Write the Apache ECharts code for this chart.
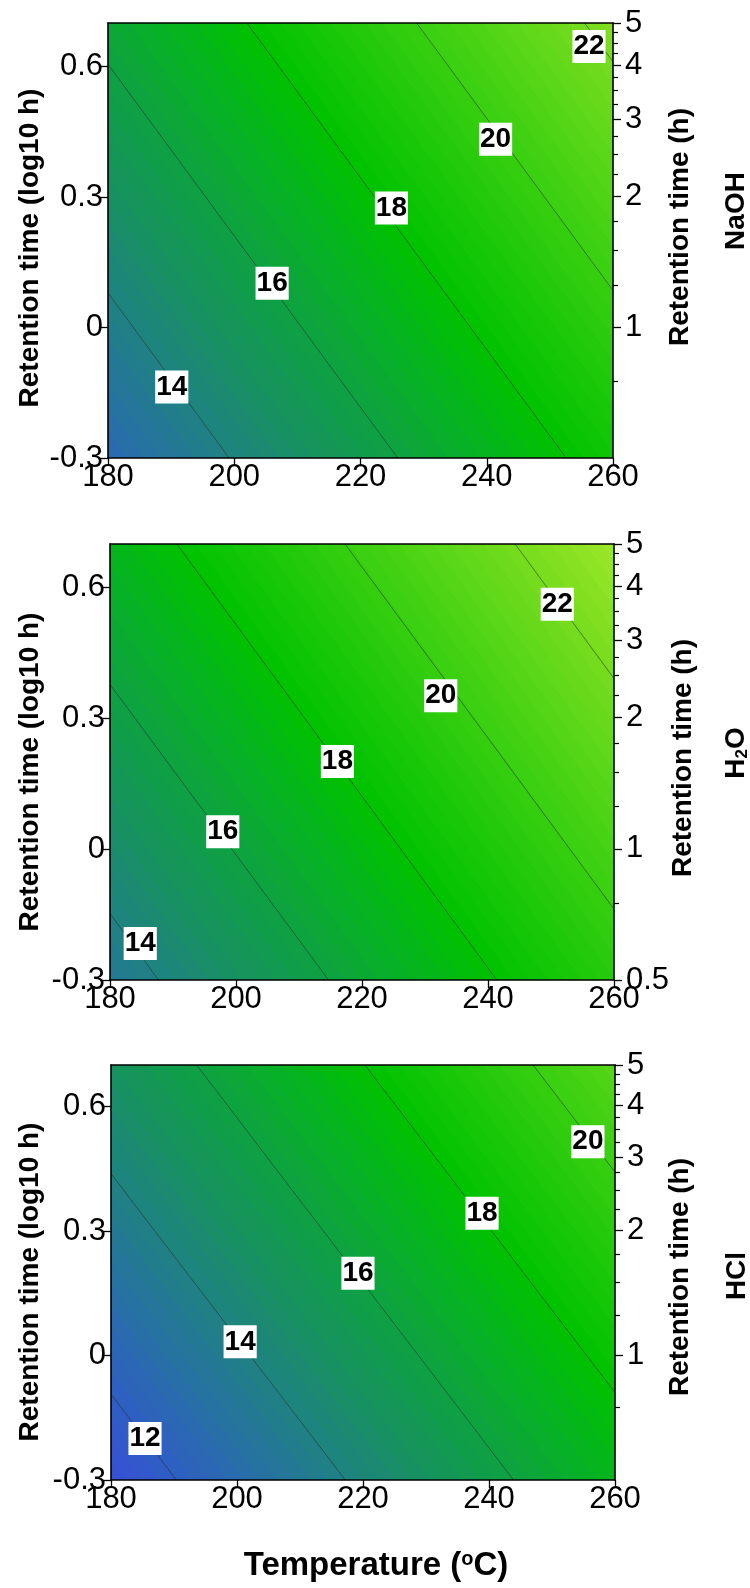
<!DOCTYPE html>
<html>
<head>
<meta charset="utf-8">
<title>Contours vs temperature and retention time</title>
<script src="https://cdn.jsdelivr.net/npm/echarts@6/dist/echarts.min.js"></script>
<style>
  html, body { margin: 0; padding: 0; background: #fff; }
  #chart { width: 750px; height: 1588px; }
</style>
</head>
<body>
<div id="chart"></div>
<script>
// contour levels; each line is given by the temperature where it meets
// the bottom (log10 h = -0.3) and the top (log10 h = 0.7) of the plot
var naohLevels = [14, 16, 18, 20, 22];
var naohTempAtBottom = [199.2, 225.9, 252.6, 279.5, 306.1];
var naohTempAtTop = [148.6, 175.2, 202.0, 228.9, 255.5];
var naohLabelTemp = [190.1, 206.0, 224.9, 241.4, 256.2];
var naohLabelTime = [-0.137, 0.102, 0.275, 0.433, 0.646];

var h2oLevels = [14, 16, 18, 20, 22];
var h2oTempAtBottom = [187.7, 214.7, 241.4, 268.3, 295.2];
var h2oTempAtTop = [137.2, 163.5, 190.6, 217.3, 244.3];
var h2oLabelTemp = [184.8, 197.9, 216.1, 232.5, 251.0];
var h2oLabelTime = [-0.216, 0.040, 0.201, 0.352, 0.562];

var hclLevels = [12, 14, 16, 18, 20];
var hclTempAtBottom = [190.4, 217.2, 243.9, 270.6, 297.4];
var hclTempAtTop = [140.1, 166.8, 193.6, 220.3, 247.0];
var hclLabelTemp = [185.4, 200.5, 219.2, 238.9, 255.7];
var hclLabelTime = [-0.200, 0.033, 0.198, 0.343, 0.515];

// axes
var tempTicks = [180, 200, 220, 240, 260];
var logTimeTicks = [-0.3, 0, 0.3, 0.6];
var hourLabelsNaoh = [1, 2, 3, 4, 5];
var hourLabelsH2o = [0.5, 1, 2, 3, 4, 5];
var hourLabelsHcl = [1, 2, 3, 4, 5];
var hourMinorTicks = [0.75, 1.25, 1.5, 1.75, 2.25, 2.5, 2.75, 3.25, 3.5, 3.75, 4.25, 4.5, 4.75];

// colour ramp used for the filled contours
var rampZ = [11, 12, 13, 14, 15, 16, 17, 18, 19, 20, 21, 22, 23, 24];
var rampColor = ['#3b4bdc', '#2f5ec4', '#2771a4', '#1f8282', '#16935e', '#0ea242', '#06b322',
                 '#00c200', '#1bc808', '#38cf10', '#57d617', '#77dd1e', '#98e526', '#b6ec2e'];
var bandStep = 0.2;

var FONT = '"Liberation Sans", Arial, sans-serif';

var panels = [
  { name: 'NaOH', levels: naohLevels, bottom: naohTempAtBottom, top: naohTempAtTop,
    labelT: naohLabelTemp, labelL: naohLabelTime, hours: hourLabelsNaoh,
    grid: { left: 108, top: 23, width: 505, height: 435 } },
  { name: 'H2O', levels: h2oLevels, bottom: h2oTempAtBottom, top: h2oTempAtTop,
    labelT: h2oLabelTemp, labelL: h2oLabelTime, hours: hourLabelsH2o,
    grid: { left: 110, top: 544, width: 504, height: 436 } },
  { name: 'HCl', levels: hclLevels, bottom: hclTempAtBottom, top: hclTempAtTop,
    labelT: hclLabelTemp, labelL: hclLabelTime, hours: hourLabelsHcl,
    grid: { left: 111, top: 1065, width: 504, height: 415 } }
];

function hexRgb(h) {
  return [parseInt(h.substr(1, 2), 16), parseInt(h.substr(3, 2), 16), parseInt(h.substr(5, 2), 16)];
}

function rampAt(z) {
  if (z <= rampZ[0]) return rampColor[0];
  if (z >= rampZ[rampZ.length - 1]) return rampColor[rampColor.length - 1];
  for (var i = 0; i < rampZ.length - 1; i++) {
    if (z <= rampZ[i + 1]) {
      var t = (z - rampZ[i]) / (rampZ[i + 1] - rampZ[i]);
      var a = hexRgb(rampColor[i]), b = hexRgb(rampColor[i + 1]);
      return 'rgb(' + Math.round(a[0] + (b[0] - a[0]) * t) + ',' +
        Math.round(a[1] + (b[1] - a[1]) * t) + ',' + Math.round(a[2] + (b[2] - a[2]) * t) + ')';
    }
  }
}

function contourRenderer(p) {
  return function (params, api) {
    var cs = params.coordSys;
    var n = p.levels.length - 1;
    var a0 = api.coord([p.bottom[0], -0.3]);
    var b0 = api.coord([p.top[0], 0.7]);
    var a1 = api.coord([p.bottom[n], -0.3]);
    var dx = b0[0] - a0[0], dy = b0[1] - a0[1];
    var len = Math.sqrt(dx * dx + dy * dy);
    var nx = dy / len, ny = -dx / len;
    var s0 = a0[0] * nx + a0[1] * ny, s1 = a1[0] * nx + a1[1] * ny;
    var zAt = function (s) { return p.levels[0] + (s - s0) / (s1 - s0) * (p.levels[n] - p.levels[0]); };
    var corners = [[cs.x, cs.y], [cs.x + cs.width, cs.y], [cs.x, cs.y + cs.height], [cs.x + cs.width, cs.y + cs.height]];
    var ss = corners.map(function (c) { return c[0] * nx + c[1] * ny; });
    var sA = Math.min.apply(null, ss), sB = Math.max.apply(null, ss);
    var zA = zAt(sA), zB = zAt(sB);
    var sLo = zA < zB ? sA : sB, sHi = zA < zB ? sB : sA;
    var zLo = Math.min(zA, zB), zHi = Math.max(zA, zB);
    var stops = [];
    for (var b = Math.floor(zLo / bandStep) * bandStep; b < zHi; b += bandStep) {
      var from = Math.max(b, zLo), to = Math.min(b + bandStep, zHi);
      var c = rampAt(b + bandStep / 2);
      stops.push({ offset: (from - zLo) / (zHi - zLo), color: c });
      stops.push({ offset: (to - zLo) / (zHi - zLo), color: c });
    }
    var children = [{
      type: 'rect',
      shape: { x: cs.x, y: cs.y, width: cs.width, height: cs.height },
      style: {
        fill: { type: 'linear', x: nx * sLo, y: ny * sLo, x2: nx * sHi, y2: ny * sHi, global: true, colorStops: stops }
      }
    }];
    p.levels.forEach(function (lv, i) {
      var q0 = api.coord([p.bottom[i], -0.3]);
      var q1 = api.coord([p.top[i], 0.7]);
      children.push({
        type: 'line',
        shape: { x1: q0[0], y1: q0[1], x2: q1[0], y2: q1[1] },
        style: { stroke: '#1e2a1e', lineWidth: 0.7, opacity: 0.75 }
      });
    });
    p.levels.forEach(function (lv, i) {
      var q = api.coord([p.labelT[i], p.labelL[i]]);
      children.push({
        type: 'text', x: q[0], y: q[1],
        style: {
          text: String(lv), fill: '#000', fontSize: 28, fontWeight: 'bold', fontFamily: FONT,
          align: 'center', verticalAlign: 'middle', backgroundColor: '#fff', padding: [3, 1, 2, 1]
        }
      });
    });
    return { type: 'group', children: children };
  };
}

var axisLineStyle = { color: '#000', width: 1.6 };
var grids = [], xAxes = [], yAxes = [], series = [];

panels.forEach(function (p, i) {
  var g = p.grid;
  grids.push({ left: g.left, top: g.top, width: g.width, height: g.height, outerBoundsMode: 'none' });
  xAxes.push({
    type: 'value', gridIndex: i, min: tempTicks[0], max: tempTicks[tempTicks.length - 1], interval: 20, z: 5,
    axisLine: { onZero: false, lineStyle: axisLineStyle },
    axisTick: { length: 8, lineStyle: { color: '#000', width: 1.3 } },
    axisLabel: { color: '#000', fontSize: 31, fontFamily: FONT, margin: 4 },
    splitLine: { show: false }
  });
  xAxes.push({
    type: 'value', gridIndex: i, position: 'top', min: tempTicks[0], max: tempTicks[tempTicks.length - 1], z: 5,
    axisLine: { onZero: false, lineStyle: axisLineStyle }, axisTick: { show: false }, axisLabel: { show: false },
    splitLine: { show: false }
  });
  yAxes.push({
    type: 'value', gridIndex: i, min: -0.3, max: 0.7, z: 5,
    axisLine: { onZero: false, lineStyle: axisLineStyle },
    axisTick: { length: 8, customValues: logTimeTicks, lineStyle: { color: '#000', width: 1.3 } },
    axisLabel: {
      color: '#000', fontSize: 31, fontFamily: FONT, margin: 5, customValues: logTimeTicks,
      formatter: function (v) { return v === 0 ? '0' : v.toFixed(1); }
    },
    splitLine: { show: false }
  });
  var logHours = p.hours.map(function (h) { return Math.log10(h); });
  yAxes.push({
    type: 'value', gridIndex: i, position: 'right', min: Math.log10(0.5), max: Math.log10(5), z: 5,
    axisLine: { onZero: false, lineStyle: axisLineStyle },
    axisTick: { length: 8, customValues: logHours, lineStyle: { color: '#000', width: 1.3 } },
    axisLabel: {
      color: '#000', fontSize: 31, fontFamily: FONT, margin: 12, customValues: logHours,
      formatter: function (v) { return String(Math.round(Math.pow(10, v) * 100) / 100); }
    },
    splitLine: { show: false }
  });
  yAxes.push({
    type: 'value', gridIndex: i, position: 'right', min: Math.log10(0.5), max: Math.log10(5), z: 5,
    axisLine: { show: false, onZero: false },
    axisTick: {
      length: 5, customValues: hourMinorTicks.map(function (h) { return Math.log10(h); }),
      lineStyle: { color: '#000', width: 1.2 }
    },
    axisLabel: { show: false },
    splitLine: { show: false }
  });
  series.push({
    type: 'custom', name: p.name, xAxisIndex: 2 * i, yAxisIndex: 3 * i, z: 1, clip: true,
    data: [[220, 0.2]],
    renderItem: contourRenderer(p)
  });
});

function vText(x, y, text, rich) {
  var style = { text: text, fill: '#000', fontSize: 28, fontWeight: 'bold', fontFamily: FONT,
                align: 'center', verticalAlign: 'middle' };
  if (rich) style.rich = rich;
  return { type: 'text', x: x, y: y, rotation: Math.PI / 2, style: style };
}

var subRich = {
  m: { fontSize: 28, fontWeight: 'bold', fontFamily: FONT, lineHeight: 30 },
  s: { fontSize: 17, fontWeight: 'bold', fontFamily: FONT, lineHeight: 17, verticalAlign: 'bottom' }
};
var supRich = {
  m: { fontSize: 33, fontWeight: 'bold', fontFamily: FONT, lineHeight: 34 },
  s: { fontSize: 20, fontWeight: 'bold', fontFamily: FONT, lineHeight: 20, verticalAlign: 'top' }
};

var graphics = [
  vText(30, 248, 'Retention time (log10 h)'),
  vText(30, 772, 'Retention time (log10 h)'),
  vText(30, 1282, 'Retention time (log10 h)'),
  vText(680, 227, 'Retention time (h)'),
  vText(683, 758, 'Retention time (h)'),
  vText(680, 1277, 'Retention time (h)'),
  vText(736, 211, 'NaOH'),
  vText(736, 753, '{m|H}{s|2}{m|O}', subRich),
  vText(737, 1276, 'HCl'),
  {
    type: 'text', x: 376, y: 1566,
    style: { text: '{m|Temperature (}{s|o}{m|C)}', rich: supRich, fill: '#000',
             align: 'center', verticalAlign: 'middle' }
  }
];

var myChart = echarts.init(document.getElementById('chart'));
myChart.setOption({
  animation: false,
  backgroundColor: '#fff',
  textStyle: { fontFamily: FONT },
  grid: grids,
  xAxis: xAxes,
  yAxis: yAxes,
  series: series,
  graphic: graphics
});
</script>
</body>
</html>
